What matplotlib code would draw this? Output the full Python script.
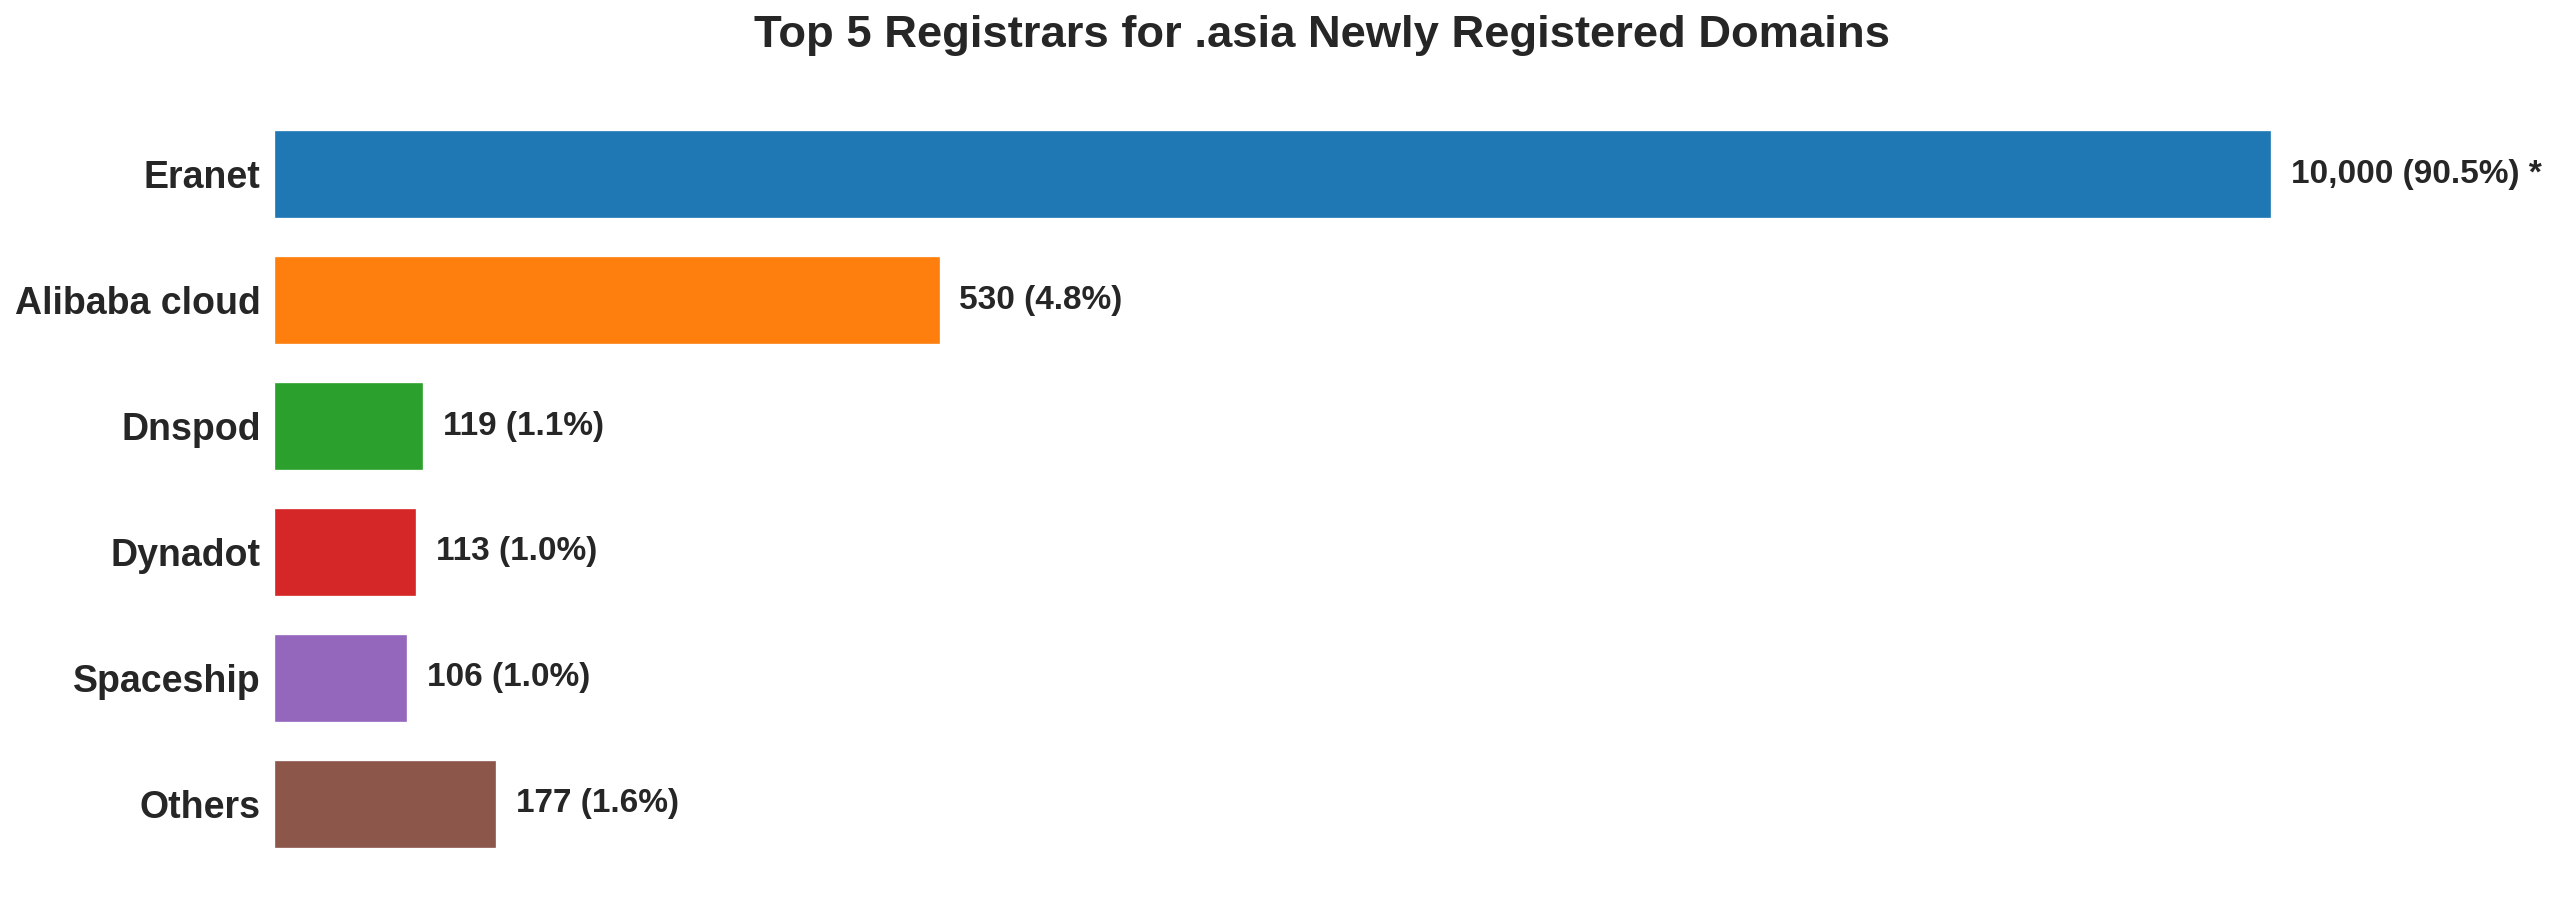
import matplotlib
matplotlib.use("Agg")
import matplotlib.pyplot as plt

registrars = ["Eranet", "Alibaba cloud", "Dnspod", "Dynadot", "Spaceship", "Others"]
counts = [10000, 530, 119, 113, 106, 177]
shares = [90.5, 4.8, 1.1, 1.0, 1.0, 1.6]
colors = ["#1f77b4", "#ff7f0e", "#2ca02c", "#d62728", "#9467bd", "#8c564b"]

plt.rcParams["font.family"] = ["Liberation Sans", "DejaVu Sans"]
TXT = "#262626"

# cap the outlier bar at 3x the next largest so the rest stay readable
cap = 3 * sorted(counts)[-2]
shown = [min(c, cap) for c in counts]

fig = plt.figure(figsize=(16, 5.6125), dpi=160)
ax = fig.add_axes([0.107, 0.056, 0.819, 0.799])
y = list(range(len(registrars)))
ax.barh(y, shown, height=0.7, color=colors, edgecolor="white", linewidth=0.6)

off = 0.01 * cap
for yi, c, s, w in zip(y, counts, shares, shown):
    lab = f"{c:,} ({s:.1f}%)" + (" *" if c > cap else "")
    ax.text(w + off, yi, lab, va="center", ha="left", fontsize=15,
            fontweight="bold", color=TXT)

ax.set_yticks(y)
ax.set_yticklabels(registrars, fontsize=16.9, fontweight="bold", color=TXT)
ax.tick_params(axis="y", length=0, pad=6)
ax.set_xticks([])
ax.set_xlim(0, 1.05 * cap)
ax.set_ylim(len(registrars) - 0.65, -0.35)
for sp in ax.spines.values():
    sp.set_visible(False)

fig.suptitle("Top 5 Registrars for .asia Newly Registered Domains", fontsize=20.4,
             fontweight="bold", color=TXT, x=0.5165, y=0.983)
fig.savefig("out.png", dpi=160, facecolor="white")
